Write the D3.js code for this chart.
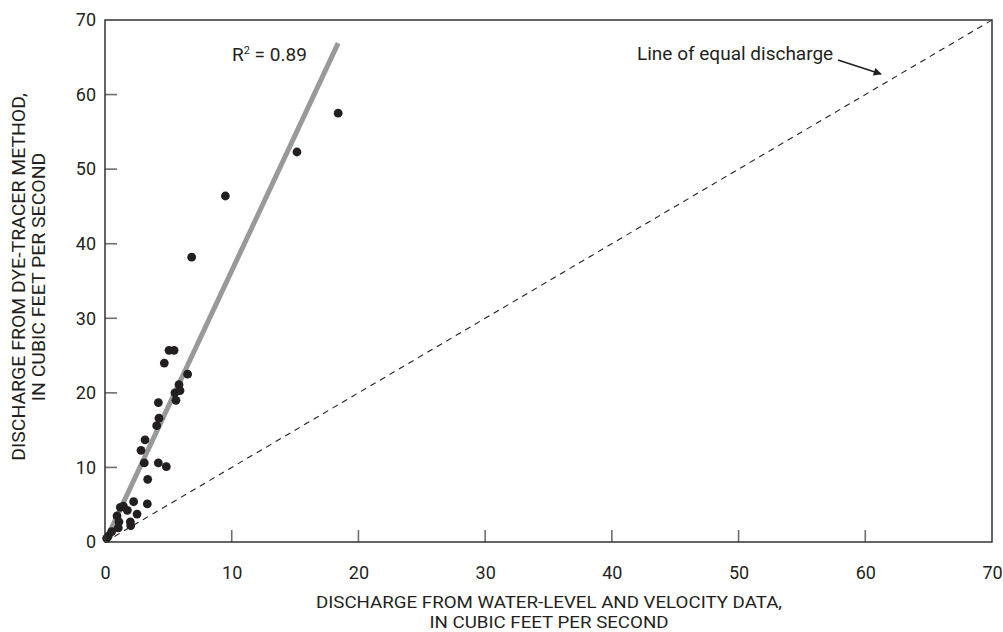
<!DOCTYPE html>
<html>
<head>
<meta charset="utf-8">
<script src="https://cdn.jsdelivr.net/npm/d3@7"></script>
<style>
  html, body { margin: 0; padding: 0; background: #fff; }
  svg text { font-family: "Roboto", "Liberation Sans", sans-serif; fill: #231f20; }
</style>
</head>
<body>
<svg id="chart" width="1003" height="632"></svg>
<script>
// Discharge from water-level and velocity data (x), cubic feet per second
const waterLevelQ = [0.13, 0.26, 0.53, 1.05, 1.1, 0.95, 2.0, 2.03, 1.21, 1.45, 1.76, 2.53, 2.26, 3.34, 3.37,
                     2.84, 3.16, 3.1, 4.21, 4.84, 4.08, 4.26, 4.21, 5.6, 5.52, 5.92, 5.84, 6.52, 4.68,
                     5.05, 5.45, 6.84, 9.5, 15.15, 18.4];
// Discharge from dye-tracer method (y), cubic feet per second
const dyeTracerQ = [0.5, 0.8, 1.4, 1.9, 2.7, 3.5, 2.7, 2.2, 4.65, 4.8, 4.25, 3.75, 5.4, 5.1, 8.4,
                    12.3, 13.7, 10.6, 10.6, 10.1, 15.6, 16.6, 18.7, 19.0, 20.0, 20.3, 21.1, 22.5, 24.0,
                    25.7, 25.7, 38.2, 46.4, 52.3, 57.5];
// Regression line endpoints (x, y)
const regressionX = [0.3, 18.4];
const regressionY = [1.1, 66.9];
// Line of equal discharge endpoints
const equalX = [0, 70];
const equalY = [0, 70];
const xTickValues = [0, 10, 20, 30, 40, 50, 60, 70];
const yTickValues = [0, 10, 20, 30, 40, 50, 60, 70];
const innerTickValues = [10, 20, 30, 40, 50, 60];
const rSquaredLabel = "0.89";
const equalLabel = "Line of equal discharge";
const xTitle = ["DISCHARGE FROM WATER-LEVEL AND VELOCITY DATA,", "IN CUBIC FEET PER SECOND"];
const yTitle = ["DISCHARGE FROM DYE-TRACER METHOD,", "IN CUBIC FEET PER SECOND"];

const svg = d3.select("#chart");
const mLeft = 105, mRight = 992, mTop = 20, mBottom = 542;
const x = d3.scaleLinear().domain([0, 70]).range([mLeft, mRight]);
const y = d3.scaleLinear().domain([0, 70]).range([mBottom, mTop]);

const ink = "#231f20";
const tickGrey = "#6d6e71";

// Line of equal discharge (dashed)
svg.append("line")
  .attr("x1", x(equalX[0])).attr("y1", y(equalY[0]))
  .attr("x2", x(equalX[1])).attr("y2", y(equalY[1]))
  .attr("stroke", ink).attr("stroke-width", 1.1)
  .attr("stroke-dasharray", "6,5");

// Regression line
svg.append("line")
  .attr("x1", x(regressionX[0])).attr("y1", y(regressionY[0]))
  .attr("x2", x(regressionX[1])).attr("y2", y(regressionY[1]))
  .attr("stroke", "#97999b").attr("stroke-width", 5);

// Points
const pts = waterLevelQ.map((v, i) => ({x: v, y: dyeTracerQ[i]}));
svg.append("g").selectAll("circle").data(pts).join("circle")
  .attr("cx", d => x(d.x)).attr("cy", d => y(d.y))
  .attr("r", 4.4).attr("fill", ink);

// Axes labels via d3 axes
const xAxis = d3.axisBottom(x).tickValues(xTickValues).tickSize(0).tickPadding(24);
const yAxis = d3.axisLeft(y).tickValues(yTickValues).tickSize(0).tickPadding(9);
const gx = svg.append("g").attr("transform", `translate(0,${mBottom})`).call(xAxis);
const gy = svg.append("g").attr("transform", `translate(${mLeft},0)`).call(yAxis);
[gx, gy].forEach(g => {
  g.select(".domain").remove();
  g.selectAll(".tick line").remove();
  g.selectAll(".tick text").attr("font-size", 18).style("font-family", '"Roboto", sans-serif').attr("fill", ink);
});

// Inward tick marks
svg.append("g").selectAll("line").data(innerTickValues).join("line")
  .attr("x1", d => x(d)).attr("x2", d => x(d))
  .attr("y1", mBottom).attr("y2", mBottom - 12)
  .attr("stroke", tickGrey).attr("stroke-width", 1.6);
svg.append("g").selectAll("line").data(innerTickValues).join("line")
  .attr("y1", d => y(d)).attr("y2", d => y(d))
  .attr("x1", mLeft).attr("x2", mLeft + 12)
  .attr("stroke", tickGrey).attr("stroke-width", 1.6);

// Frame
svg.append("rect")
  .attr("x", mLeft).attr("y", mTop).attr("width", mRight - mLeft).attr("height", mBottom - mTop)
  .attr("fill", "none").attr("stroke", "#333333").attr("stroke-width", 1.5);

// R² label
const rt = svg.append("text").attr("x", 232).attr("y", 61).attr("font-size", 19);
rt.append("tspan").text("R");
rt.append("tspan").attr("font-size", 11).attr("dy", -7).text("2");
rt.append("tspan").attr("dy", 7).text(" = " + rSquaredLabel);

// Line of equal discharge label + arrow
svg.append("defs").append("marker")
  .attr("id", "arrow").attr("viewBox", "0 0 10 10").attr("refX", 9).attr("refY", 5)
  .attr("markerWidth", 10).attr("markerHeight", 8).attr("markerUnits", "userSpaceOnUse")
  .attr("orient", "auto")
  .append("path").attr("d", "M0,0 L10,5 L0,10 z").attr("fill", ink);
svg.append("text").attr("x", 637).attr("y", 60).attr("font-size", 19).text(equalLabel);
svg.append("line")
  .attr("x1", 838).attr("y1", 60).attr("x2", 881).attr("y2", 74)
  .attr("stroke", ink).attr("stroke-width", 1.6).attr("marker-end", "url(#arrow)");

// Axis titles (slightly widened to match the reference's typeface)
function widen(sel, factor) {
  sel.each(function() {
    const w = this.getComputedTextLength();
    d3.select(this).attr("textLength", w * factor).attr("lengthAdjust", "spacingAndGlyphs");
  });
}
const xt = svg.append("text").attr("text-anchor", "middle").attr("font-size", 17);
const xts = xt.selectAll("tspan").data(xTitle).join("tspan")
  .attr("x", 549).attr("y", (d, i) => 608 + i * 20).text(d => d);
widen(xts, 1.1);

const yt = svg.append("text").attr("text-anchor", "middle").attr("font-size", 18)
  .attr("transform", "translate(0,277) rotate(-90)");
const yts = yt.selectAll("tspan").data(yTitle).join("tspan")
  .attr("x", 0).attr("y", (d, i) => 25 + i * 20).text(d => d);
widen(yts, 1.08);
</script>
</body>
</html>
